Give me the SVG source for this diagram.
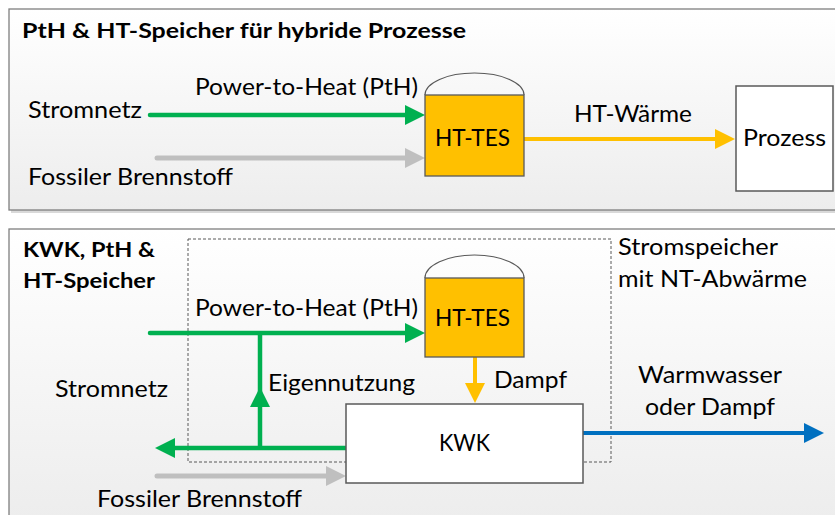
<svg xmlns="http://www.w3.org/2000/svg" width="835" height="515" viewBox="0 0 835 515">
<defs>
<linearGradient id="bg" x1="0" y1="0" x2="0" y2="1">
<stop offset="0" stop-color="#ffffff"/>
<stop offset="1" stop-color="#ededed"/>
</linearGradient>
<marker id="ag" viewBox="0 0 20 20" markerWidth="20" markerHeight="20" refX="10" refY="10" orient="auto" markerUnits="userSpaceOnUse"><path d="M0,0 L20,10 L0,20 z" fill="#00b050"/></marker>
<marker id="agr" viewBox="0 0 20 20" markerWidth="20" markerHeight="20" refX="10" refY="10" orient="auto" markerUnits="userSpaceOnUse"><path d="M0,0 L20,10 L0,20 z" fill="#bfbfbf"/></marker>
<marker id="ao" viewBox="0 0 20 20" markerWidth="20" markerHeight="20" refX="10" refY="10" orient="auto" markerUnits="userSpaceOnUse"><path d="M0,0 L20,10 L0,20 z" fill="#ffc000"/></marker>
<marker id="ab" viewBox="0 0 20 20" markerWidth="20" markerHeight="20" refX="10" refY="10" orient="auto" markerUnits="userSpaceOnUse"><path d="M0,0 L20,10 L0,20 z" fill="#0070c0"/></marker>
</defs>
<style>
.panel{fill:url(#bg);stroke:#7f7f7f;stroke-width:1.3}
.shadow{fill:#d9d9d9}
.t{font-family:Lato,"Liberation Sans",sans-serif;font-size:24px;fill:#000}
.tb{font-family:Lato,"Liberation Sans",sans-serif;font-size:21px;font-weight:bold;fill:#000}
.tank{fill:#ffc000;stroke:#595959;stroke-width:1.3}
.dome{fill:none;stroke:#595959;stroke-width:1.2}
.box{fill:#fff;stroke:#595959;stroke-width:1.5}
.green{stroke:#00b050;stroke-width:4.5;fill:none}
.gray{stroke:#bfbfbf;stroke-width:5;fill:none;stroke-linecap:round}
.orange{stroke:#ffc000;stroke-width:4;fill:none}
.blue{stroke:#0070c0;stroke-width:4;fill:none}
.dash{fill:none;stroke:#595959;stroke-width:1;stroke-dasharray:3 2}
</style>

<g id="panel-top">
<rect class="shadow" x="11" y="11" width="830" height="202"/>
<rect class="panel" x="9" y="9" width="830" height="201"/>
<text class="tb" x="22" y="38" textLength="444" lengthAdjust="spacingAndGlyphs">PtH &amp; HT-Speicher für hybride Prozesse</text>
</g>

<g id="panel-bottom">
<rect class="shadow" x="11" y="231" width="830" height="290"/>
<rect class="panel" x="9" y="229" width="830" height="290"/>
<text class="tb" x="23" y="257" textLength="132" lengthAdjust="spacingAndGlyphs">KWK, PtH &amp;</text>
<text class="tb" x="23" y="288" textLength="132" lengthAdjust="spacingAndGlyphs">HT-Speicher</text>
</g>

<g id="storage-boundary">
<rect class="dash" x="188" y="239" width="423" height="223"/>
<text class="t" x="618" y="255" textLength="160" lengthAdjust="spacingAndGlyphs">Stromspeicher</text>
<text class="t" x="618" y="287" textLength="189" lengthAdjust="spacingAndGlyphs">mit NT-Abwärme</text>
</g>

<g id="connectors">
<line class="green" x1="150" y1="115" x2="415" y2="115" marker-end="url(#ag)" stroke-linecap="round"/>
<line class="gray" x1="157" y1="158" x2="415" y2="158" marker-end="url(#agr)"/>
<line class="orange" x1="524" y1="139" x2="725" y2="139" marker-end="url(#ao)"/>

<line class="green" x1="150" y1="333" x2="415" y2="333" marker-end="url(#ag)" stroke-linecap="round"/>
<line class="green" x1="260" y1="333" x2="260" y2="397"/>
<line class="green" x1="260" y1="448" x2="260" y2="397" marker-end="url(#ag)"/>
<line class="green" x1="346" y1="448" x2="165" y2="448" marker-end="url(#ag)"/>
<line class="gray" x1="157" y1="476" x2="336" y2="476" marker-end="url(#agr)"/>
<line class="orange" x1="475" y1="357" x2="475" y2="393" marker-end="url(#ao)"/>
<line class="blue" x1="583" y1="433" x2="814" y2="433" marker-end="url(#ab)"/>
</g>

<g id="labels">
<text class="t" x="195" y="95" textLength="223" lengthAdjust="spacingAndGlyphs">Power-to-Heat (PtH)</text>
<text class="t" x="28" y="118" textLength="114" lengthAdjust="spacingAndGlyphs">Stromnetz</text>
<text class="t" x="28" y="185" textLength="205" lengthAdjust="spacingAndGlyphs">Fossiler Brennstoff</text>
<text class="t" x="574" y="122" textLength="118" lengthAdjust="spacingAndGlyphs">HT-Wärme</text>

<text class="t" x="195" y="316" textLength="223" lengthAdjust="spacingAndGlyphs">Power-to-Heat (PtH)</text>
<text class="t" x="55" y="397" textLength="113" lengthAdjust="spacingAndGlyphs">Stromnetz</text>
<text class="t" x="268" y="391" textLength="147" lengthAdjust="spacingAndGlyphs">Eigennutzung</text>
<text class="t" x="97" y="507" textLength="205" lengthAdjust="spacingAndGlyphs">Fossiler Brennstoff</text>
<text class="t" x="494" y="388" textLength="73" lengthAdjust="spacingAndGlyphs">Dampf</text>
<text class="t" x="638" y="383" textLength="144" lengthAdjust="spacingAndGlyphs">Warmwasser</text>
<text class="t" x="645" y="415" textLength="130" lengthAdjust="spacingAndGlyphs">oder Dampf</text>
</g>

<g id="tes-top">
<path class="dome" d="M425,95 A49.5,22 0 0 1 524,95"/>
<rect class="tank" x="425" y="95" width="99" height="81"/>
<text class="t" x="435" y="146" textLength="75" lengthAdjust="spacingAndGlyphs">HT-TES</text>
</g>

<g id="prozess">
<rect class="box" x="736" y="86" width="97" height="105"/>
<text class="t" x="743" y="146" textLength="83" lengthAdjust="spacingAndGlyphs">Prozess</text>
</g>

<g id="tes-bottom">
<path class="dome" d="M425,278 A49.5,23 0 0 1 524,278"/>
<rect class="tank" x="425" y="278" width="99" height="79"/>
<text class="t" x="435" y="326" textLength="75" lengthAdjust="spacingAndGlyphs">HT-TES</text>
</g>

<g id="kwk">
<rect class="box" x="346" y="404" width="237" height="79"/>
<text class="t" x="439" y="451" textLength="51" lengthAdjust="spacingAndGlyphs">KWK</text>
</g>
</svg>
